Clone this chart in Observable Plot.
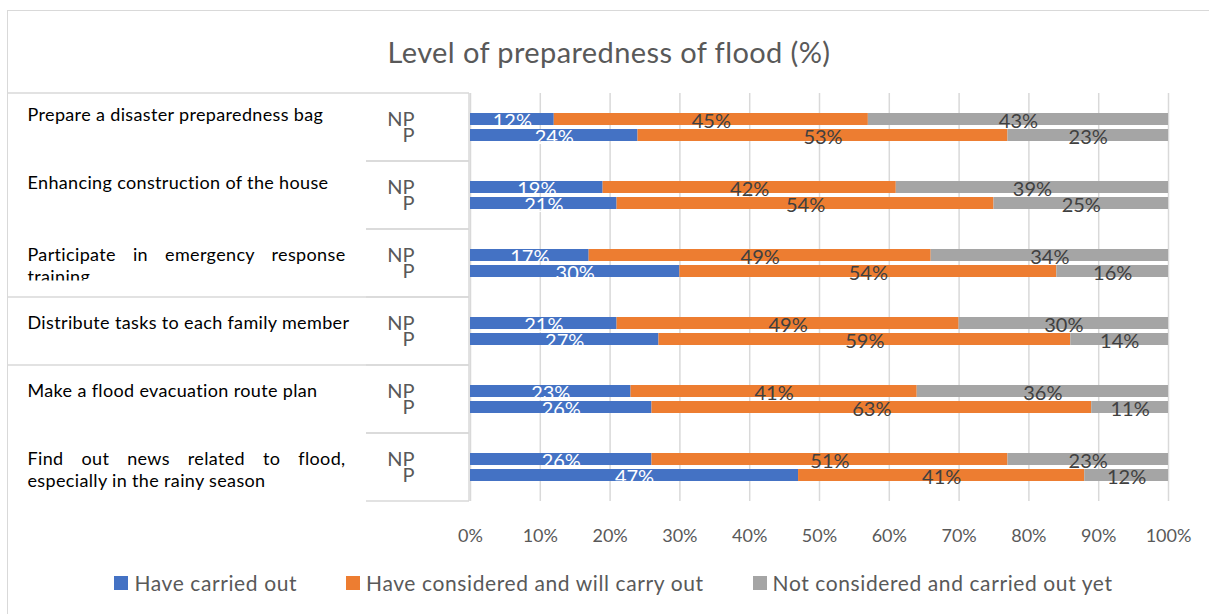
<!DOCTYPE html>
<html>
<head>
<meta charset="utf-8">
<script src="https://cdn.jsdelivr.net/npm/d3@7"></script>
<script src="https://cdn.jsdelivr.net/npm/@observablehq/plot@0.6"></script>
<style>
  html, body { margin: 0; padding: 0; background: #fff; }
  #chart { position: relative; width: 1209px; height: 614px; overflow: hidden; font-family: Lato, sans-serif; }
  #border { position: absolute; left: 7px; top: 10px; width: 1230px; height: 640px;
            border-top: 1.5px solid #d9d9d9; border-left: 1.5px solid #d9d9d9; }
  #title { position: absolute; left: 0; top: 36px; width: 1218px; text-align: center;
           font-size: 29px; letter-spacing: 0.4px; line-height: 32px; color: #595959; }
  #plot { position: absolute; left: 0; top: 0; }
  #legend { position: absolute; left: 9px; top: 566px; width: 1209px; }
  #legend .lg-swatches-wrap { justify-content: center; margin: 0; }
  #legend .lg-swatch { margin-right: 49px !important; letter-spacing: 0.6px; }
  #legend .lg-swatch:last-child { margin-right: 0 !important; }
  #legend .lg-swatch > svg { margin-right: 6px !important; }
  .cell-label { letter-spacing: 0.35px; }
</style>
</head>
<body>
<div id="chart">
  <div id="border"></div>
  <div id="title">Level of preparedness of flood (%)</div>
  <div id="plot"></div>
  <div id="legend"></div>
</div>
<script>
// Activities, top to bottom
const categories = [
  "Prepare a disaster preparedness bag",
  "Enhancing construction of the house",
  "Participate in emergency response training",
  "Distribute tasks to each family member",
  "Make a flood evacuation route plan",
  "Find out news related to flood, especially in the rainy season"
];
// How each activity name is broken into lines in its table cell
const categoryLines = [
  ["Prepare a disaster preparedness bag"],
  ["Enhancing construction of the house"],
  ["Participate in emergency response", "training"],
  ["Distribute tasks to each family member"],
  ["Make a flood evacuation route plan"],
  ["Find out news related to flood,", "especially in the rainy season"]
];
const groups = ["NP", "P"];
const series = ["Have carried out", "Have considered and will carry out", "Not considered and carried out yet"];
const seriesColors = ["#4472C4", "#ED7D31", "#A5A5A5"];

// Percentages per activity (same order as categories)
const npCarried    = [12, 19, 17, 21, 23, 26];
const npConsidered = [45, 42, 49, 49, 41, 51];
const npNotYet     = [43, 39, 34, 30, 36, 23];
const pCarried     = [24, 21, 30, 27, 26, 47];
const pConsidered  = [53, 54, 54, 59, 63, 41];
const pNotYet      = [23, 25, 16, 14, 11, 12];

const xTicks = [0, 10, 20, 30, 40, 50, 60, 70, 80, 90, 100];

// Long table: one row per activity × group × response
const valuesBy = {
  NP: [npCarried, npConsidered, npNotYet],
  P: [pCarried, pConsidered, pNotYet]
};
const rows = [];
categories.forEach((category, i) => {
  for (const group of groups) {
    series.forEach((s, k) => rows.push({category, group, series: s, value: valuesBy[group][k][i]}));
  }
});
const groupRows = categories.flatMap(category => groups.map(group => ({category, group})));
const lineRows = categories.flatMap((category, i) =>
  categoryLines[i].map((text, j) => ({category, row: i, text, line: j, group: groups[j],
    justify: j === 0 && categoryLines[i].length > 1}))
);
// the two upper cells hold their text a little higher than the rest
const raisedLines = lineRows.filter(d => d.line === 0 && d.row < 2);
const firstLines = lineRows.filter(d => d.line === 0 && d.row >= 2);
const secondLines = lineRows.filter(d => d.line === 1);

const labelText = (first) => d => (first === (d.series === series[0])) ? `${d.value}%` : null;
const cellLabel = {fy: "category", y: "group", text: "text", frameAnchor: "left", textAnchor: "start",
  dx: -443, fill: "#000", fontSize: 18, className: "cell-label"};

const plot = Plot.plot({
  width: 1209,
  height: 560,
  marginTop: 90,
  marginBottom: 57,
  marginLeft: 470,
  marginRight: 41,
  style: {fontFamily: "Lato, sans-serif", background: "transparent", overflow: "visible"},
  x: {domain: [0, 100], axis: null},
  y: {domain: groups, paddingInner: 0.235, paddingOuter: 1.147, align: 0.5, axis: null},
  fy: {domain: categories, padding: 0, axis: null},
  color: {domain: series, range: seriesColors},
  marks: [
    Plot.ruleX(xTicks, {stroke: "#d9d9d9", strokeWidth: 1.5}),
    Plot.barX(rows, {x: "value", y: "group", fy: "category", fill: "series"}),
    Plot.text(rows, Plot.stackX({x: "value", y: "group", fy: "category", text: labelText(true),
      fill: "white", fontSize: 20, dy: 2})),
    Plot.text(rows, Plot.stackX({x: "value", y: "group", fy: "category", text: labelText(false),
      fill: "#404040", fontSize: 20, dy: 2})),
    Plot.text(groupRows, {fy: "category", y: "group", text: "group", frameAnchor: "left",
      textAnchor: "end", dx: -56, fill: "#595959", fontSize: 20}),
    Plot.text(raisedLines, {...cellLabel, dy: -4}),
    Plot.text(firstLines, {...cellLabel, dy: 0}),
    Plot.text(secondLines, {...cellLabel, dy: 6}),
    Plot.axisX(xTicks, {tickFormat: d => `${d}%`, tickSize: 0, tickPadding: 28, fontSize: 18,
      color: "#595959", label: null})
  ]
});
document.getElementById("plot").append(plot);

// Table cell borders around the group labels, placed with the facet scale
const fy = plot.scale("fy");
const svg = d3.select(plot);
const borders = svg.insert("g", ":first-child").attr("stroke", "#d9d9d9").attr("stroke-width", 1.5);
const hline = (x1, x2, y) => borders.append("line").attr("x1", x1).attr("x2", x2).attr("y1", y).attr("y2", y);
categories.forEach(c => {
  const top = fy.apply(c), bottom = top + fy.bandwidth;
  hline(366, 469, top);
  hline(366, 469, bottom);
});
hline(7, 366, fy.apply(categories[0]));
hline(7, 366, fy.apply(categories[3]));
hline(7, 366, fy.apply(categories[3]) + fy.bandwidth);
borders.append("line").attr("x1", 469).attr("x2", 469)
  .attr("y1", fy.apply(categories[0])).attr("y2", fy.apply(categories[categories.length - 1]) + fy.bandwidth);

// Justify the first line of wrapped activity names to the cell width,
// and cut the overflowing second line at the cell edge
const justified = new Set(lineRows.filter(d => d.justify).map(d => d.text));
const defs = svg.append("defs");
svg.selectAll("text").each(function() {
  const t = this.textContent;
  if (justified.has(t)) {
    const natural = this.getComputedTextLength();
    const spaces = (t.match(/ /g) || []).length;
    this.style.wordSpacing = `${(318 - natural) / spaces}px`;
  }
  if (t === "training") {
    const bb = this.getBBox();
    defs.append("clipPath").attr("id", "cell-clip")
      .append("rect").attr("x", bb.x - 4).attr("y", bb.y - 4)
      .attr("width", bb.width + 8).attr("height", bb.height * 0.78 + 2);
    this.setAttribute("clip-path", "url(#cell-clip)");
  }
});

// Legend below the chart
document.getElementById("legend").append(Plot.legend({
  color: {domain: series, range: seriesColors},
  legend: "swatches",
  swatchSize: 14,
  className: "lg",
  style: {fontFamily: "Lato, sans-serif", fontSize: "21px", color: "#595959", margin: 0}
}));
</script>
</body>
</html>
